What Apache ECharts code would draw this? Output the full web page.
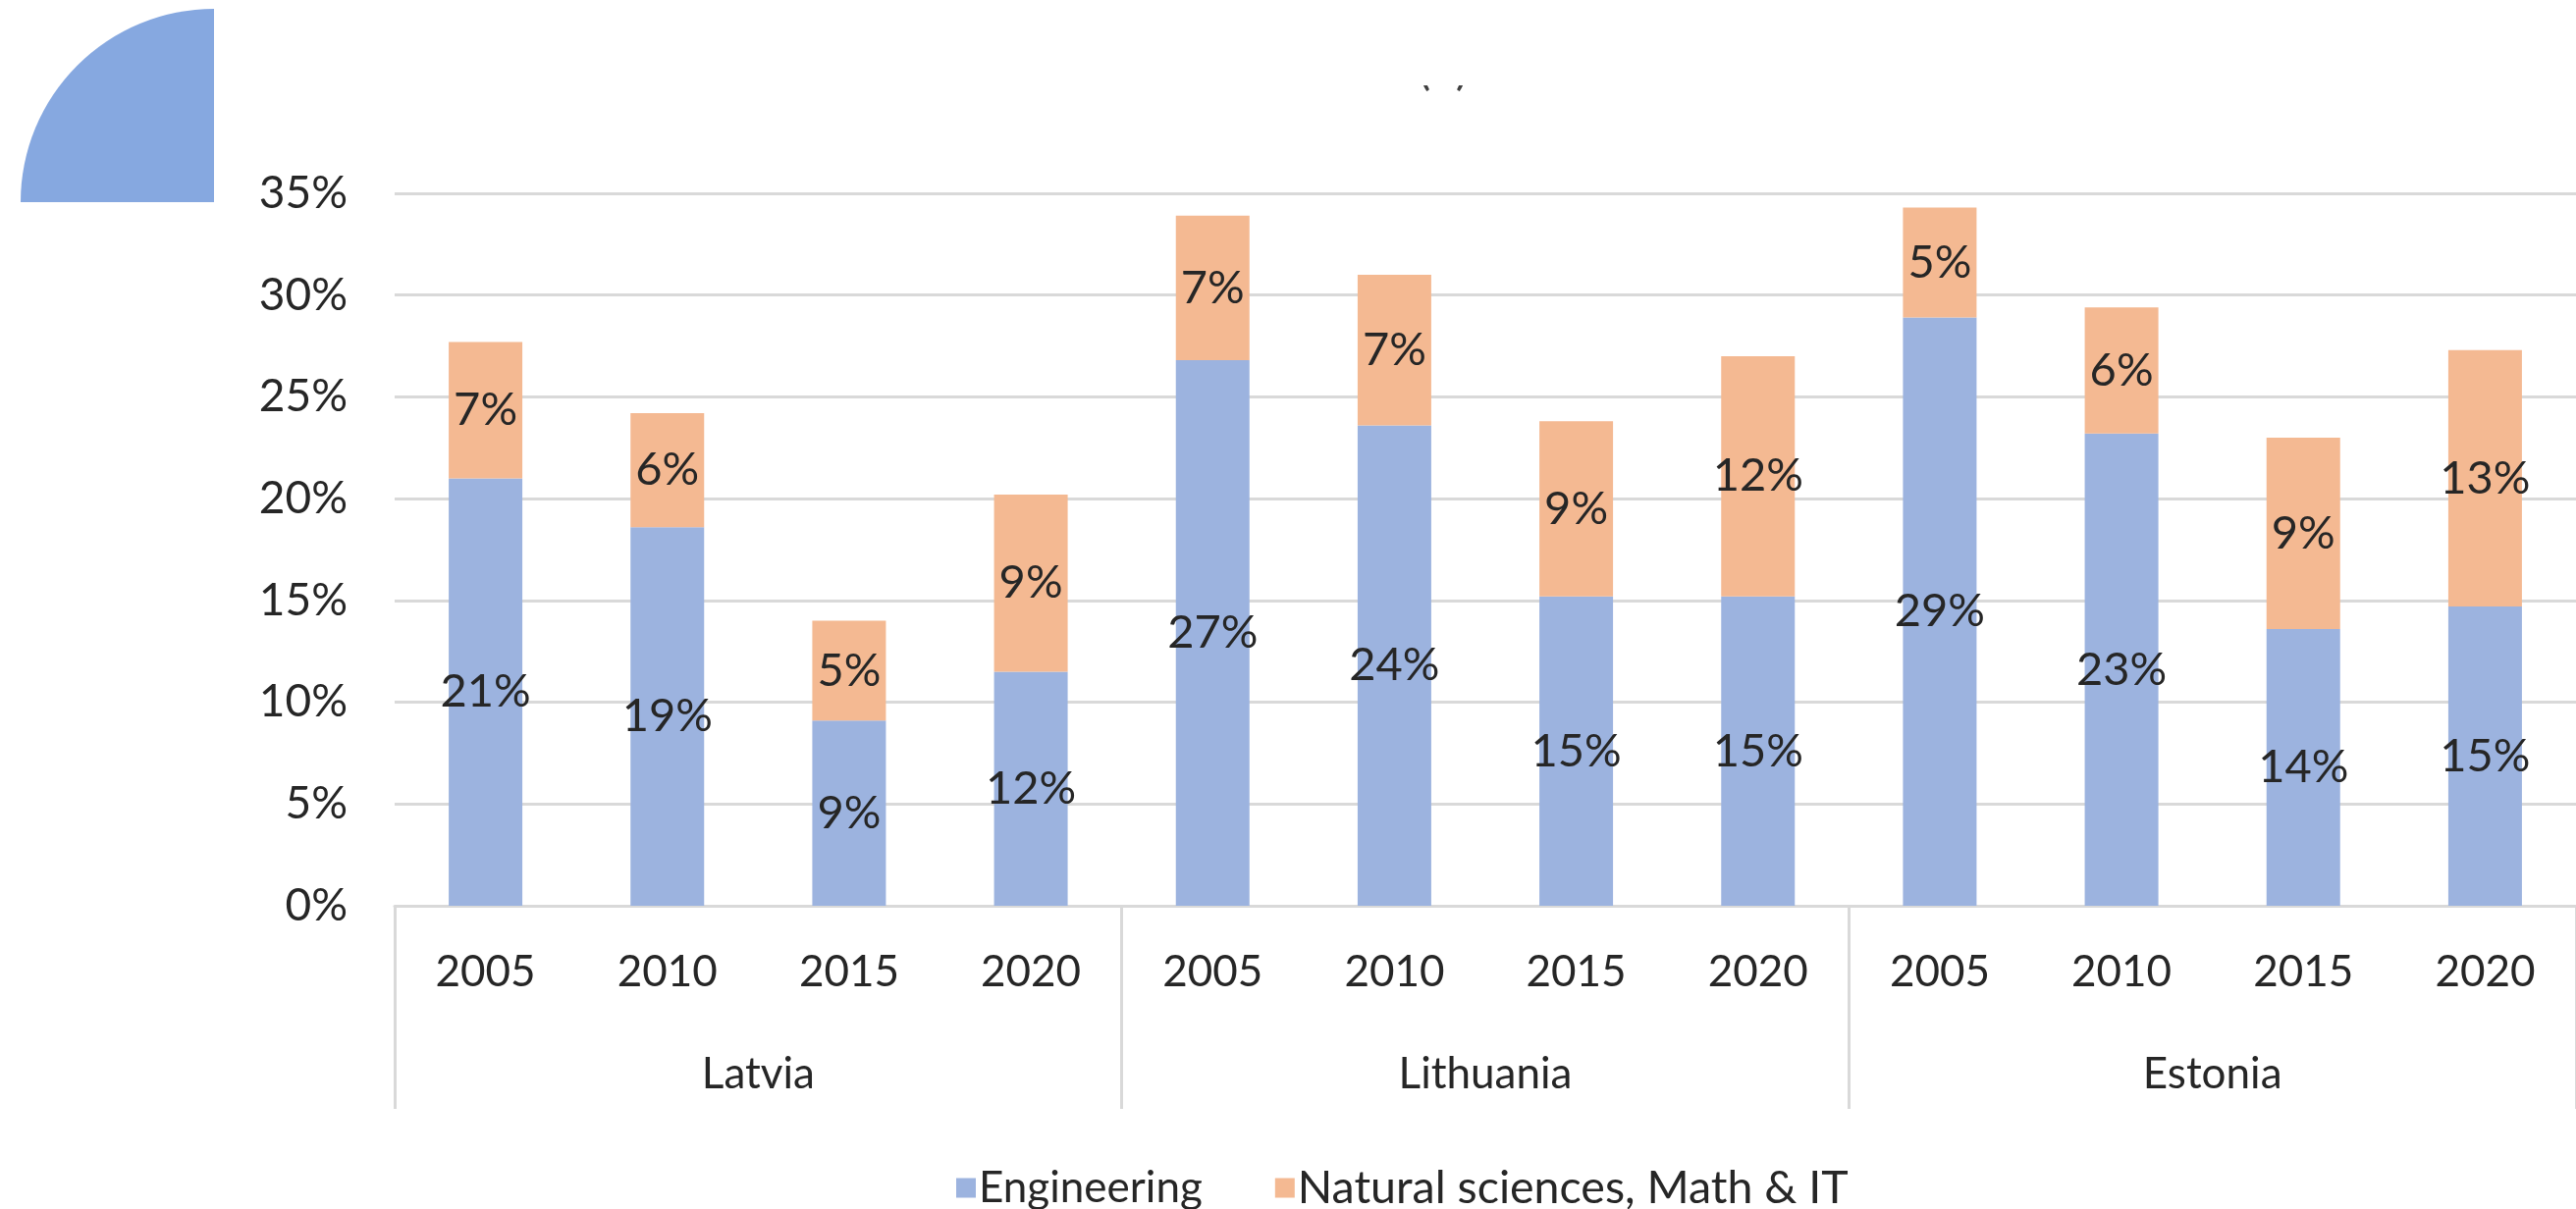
<!DOCTYPE html>
<html>
<head>
<meta charset="utf-8">
<script src="https://cdn.jsdelivr.net/npm/echarts@6/dist/echarts.min.js"></script>
<style>
  html, body { margin: 0; padding: 0; background: #ffffff; }
  #chart { width: 2624px; height: 1232px; }
</style>
</head>
<body>
<div id="chart"></div>
<script>
const years = ['2005', '2010', '2015', '2020', '2005', '2010', '2015', '2020', '2005', '2010', '2015', '2020'];
const countries = ['Latvia', 'Lithuania', 'Estonia'];
const yTicks = [0, 5, 10, 15, 20, 25, 30, 35];
const engineering = [21.0, 18.6, 9.1, 11.5, 26.8, 23.6, 15.2, 15.2, 28.9, 23.2, 13.6, 14.7];
const naturalSciences = [6.7, 5.6, 4.9, 8.7, 7.1, 7.4, 8.6, 11.8, 5.4, 6.2, 9.4, 12.6];
const seriesNames = ['Engineering', 'Natural sciences, Math & IT'];
const titleFragment = '(b)';

const FONT = 'Lato';
const TXT = '#262626';
const GRID = '#d9d9d9';

const chart = echarts.init(document.getElementById('chart'), null, { renderer: 'canvas' });

const labelOpt = {
  show: true,
  position: 'inside',
  fontFamily: FONT,
  fontSize: 47,
  color: TXT,
  formatter: p => Math.round(p.value) + '%'
};

chart.setOption({
  animation: false,
  backgroundColor: '#ffffff',
  textStyle: { fontFamily: FONT },
  grid: { left: 402, right: -23, top: 197, bottom: 309, containLabel: false },
  legend: {
    data: [
      { name: seriesNames[0], textStyle: { fontSize: 44 } },
      { name: seriesNames[1], textStyle: { fontSize: 46.5 } }
    ],
    left: 969,
    top: 1182,
    icon: 'rect',
    itemWidth: 20,
    itemHeight: 20,
    itemGap: 74,
    textStyle: { fontFamily: FONT, fontSize: 44, color: TXT, padding: [0, 0, 0, -2] }
  },
  yAxis: {
    type: 'value',
    min: yTicks[0],
    max: yTicks[yTicks.length - 1],
    interval: yTicks[1] - yTicks[0],
    axisLine: { show: false },
    axisTick: { show: false },
    axisLabel: { fontFamily: FONT, fontSize: 46, color: TXT, margin: 48, formatter: '{value}%' },
    splitLine: { lineStyle: { color: GRID, width: 3 } }
  },
  xAxis: [
    {
      type: 'category',
      data: years,
      position: 'bottom',
      axisLine: { show: true, lineStyle: { color: GRID, width: 3 } },
      axisTick: { show: false },
      axisLabel: { fontFamily: FONT, fontSize: 44, color: TXT, margin: 68, verticalAlign: 'middle', interval: 0 }
    },
    {
      type: 'category',
      data: countries,
      position: 'bottom',
      offset: 0,
      axisLine: { show: false },
      axisTick: { show: true, length: 207, interval: 0, lineStyle: { color: GRID, width: 3 } },
      axisLabel: { fontFamily: FONT, fontSize: 44, color: TXT, margin: 172, verticalAlign: 'middle', interval: 0 },
      splitLine: { show: false }
    }
  ],
  series: [
    {
      name: seriesNames[0],
      type: 'bar',
      stack: 'total',
      xAxisIndex: 0,
      barWidth: 75,
      data: engineering,
      itemStyle: { color: '#9CB3DF' },
      label: labelOpt
    },
    {
      name: seriesNames[1],
      type: 'bar',
      stack: 'total',
      xAxisIndex: 0,
      barWidth: 75,
      data: naturalSciences,
      itemStyle: { color: '#F4B992' },
      label: labelOpt
    }
  ],
  graphic: [
    {
      type: 'sector',
      shape: { cx: 218, cy: 206, r: 197, r0: 0, startAngle: Math.PI, endAngle: Math.PI * 1.5 },
      style: { fill: '#86A8E0' },
      z: 10
    },
    {
      type: 'text',
      x: 1470,
      y: 71,
      style: { text: titleFragment, fontFamily: FONT, fontSize: 48, fill: '#404040', align: 'center', verticalAlign: 'middle' },
      z: 10
    },
    {
      type: 'rect',
      shape: { x: 1400, y: 0, width: 150, height: 87 },
      style: { fill: '#ffffff' },
      z: 11
    }
  ]
});
</script>
</body>
</html>
